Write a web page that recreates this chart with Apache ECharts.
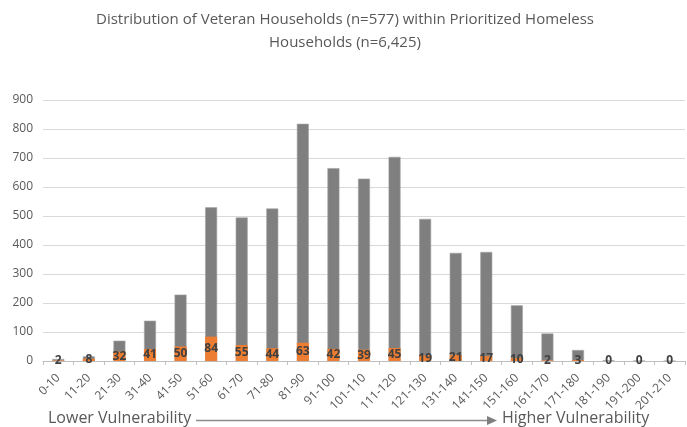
<!DOCTYPE html>
<html>
<head>
<meta charset="utf-8">
<script src="https://cdn.jsdelivr.net/npm/echarts@6/dist/echarts.min.js"></script>
<style>
  html, body { margin: 0; padding: 0; background: #fff; }
  #chart { width: 687px; height: 427px; }
</style>
</head>
<body>
<div id="chart"></div>
<script>
// Score bands along the x axis
const scoreBands = ['0-10', '11-20', '21-30', '31-40', '41-50', '51-60', '61-70', '71-80', '81-90', '91-100',
  '101-110', '111-120', '121-130', '131-140', '141-150', '151-160', '161-170', '171-180', '181-190', '191-200', '201-210'];

// All prioritized homeless households per band
const allHouseholds = [7, 16, 70, 139, 229, 530, 495, 526, 818, 665, 629, 704, 490, 373, 376, 192, 95, 38, 3, 1, 0];

// Veteran households per band
const veteranHouseholds = [2, 8, 32, 41, 50, 84, 55, 44, 63, 42, 39, 45, 19, 21, 17, 10, 2, 3, 0, 0, 0];

const yTicks = [0, 100, 200, 300, 400, 500, 600, 700, 800, 900];

const FONT = '"Open Sans", "Liberation Sans", sans-serif';
const chart = echarts.init(document.getElementById('chart'), null, { renderer: 'canvas' });

chart.setOption({
  animation: false,
  backgroundColor: '#ffffff',
  textStyle: { fontFamily: FONT },
  graphic: [
    {
      type: 'text',
      x: 345,
      y: 8,
      style: {
        text: 'Distribution of Veteran Households (n=577) within Prioritized Homeless\nHouseholds (n=6,425)',
        fill: '#595959',
        font: '15px ' + FONT,
        align: 'center',
        lineHeight: 23
      }
    },
    {
      type: 'text',
      left: 48,
      top: 410,
      style: { text: 'Lower Vulnerability', fill: '#595959', font: '16px ' + FONT }
    },
    {
      type: 'line',
      shape: { x1: 196, y1: 420.5, x2: 489, y2: 420.5 },
      style: { stroke: '#8c8c8c', lineWidth: 1.5 }
    },
    {
      type: 'polygon',
      shape: { points: [[487, 416], [497, 420.5], [487, 425]] },
      style: { fill: '#7f7f7f' }
    },
    {
      type: 'text',
      left: 502,
      top: 410,
      style: { text: 'Higher Vulnerability', fill: '#595959', font: '16px ' + FONT }
    }
  ],
  grid: { left: 43, right: 2, top: 100, bottom: 66, containLabel: false },
  xAxis: {
    type: 'category',
    data: scoreBands,
    axisLine: { lineStyle: { color: '#bfbfbf' } },
    axisTick: { show: true, length: 4, lineStyle: { color: '#bfbfbf' } },
    axisLabel: {
      rotate: 45, color: '#595959', fontSize: 12, margin: 15, interval: 0,
      fontFamily: FONT, padding: [0, 0, 0, 0]
    }
  },
  yAxis: {
    type: 'value',
    min: yTicks[0],
    max: yTicks[yTicks.length - 1],
    interval: 100,
    axisLine: { show: false },
    axisTick: { show: false },
    splitLine: { lineStyle: { color: '#d9d9d9' } },
    axisLabel: { color: '#595959', fontSize: 12, margin: 10, fontFamily: FONT }
  },
  series: [
    {
      name: 'All Households',
      type: 'bar',
      data: allHouseholds,
      barWidth: 12,
      barGap: '-100%',
      itemStyle: { color: '#7f7f7f', borderColor: '#a6a6a6', borderWidth: 0.6 }
    },
    {
      name: 'Veteran Households',
      type: 'bar',
      data: veteranHouseholds,
      barWidth: 12,
      itemStyle: { color: '#ed7d31' },
      label: {
        show: true,
        position: 'inside',
        color: '#404040',
        fontWeight: 'bold',
        fontSize: 12,
        fontFamily: FONT
      }
    }
  ]
});
</script>
</body>
</html>
